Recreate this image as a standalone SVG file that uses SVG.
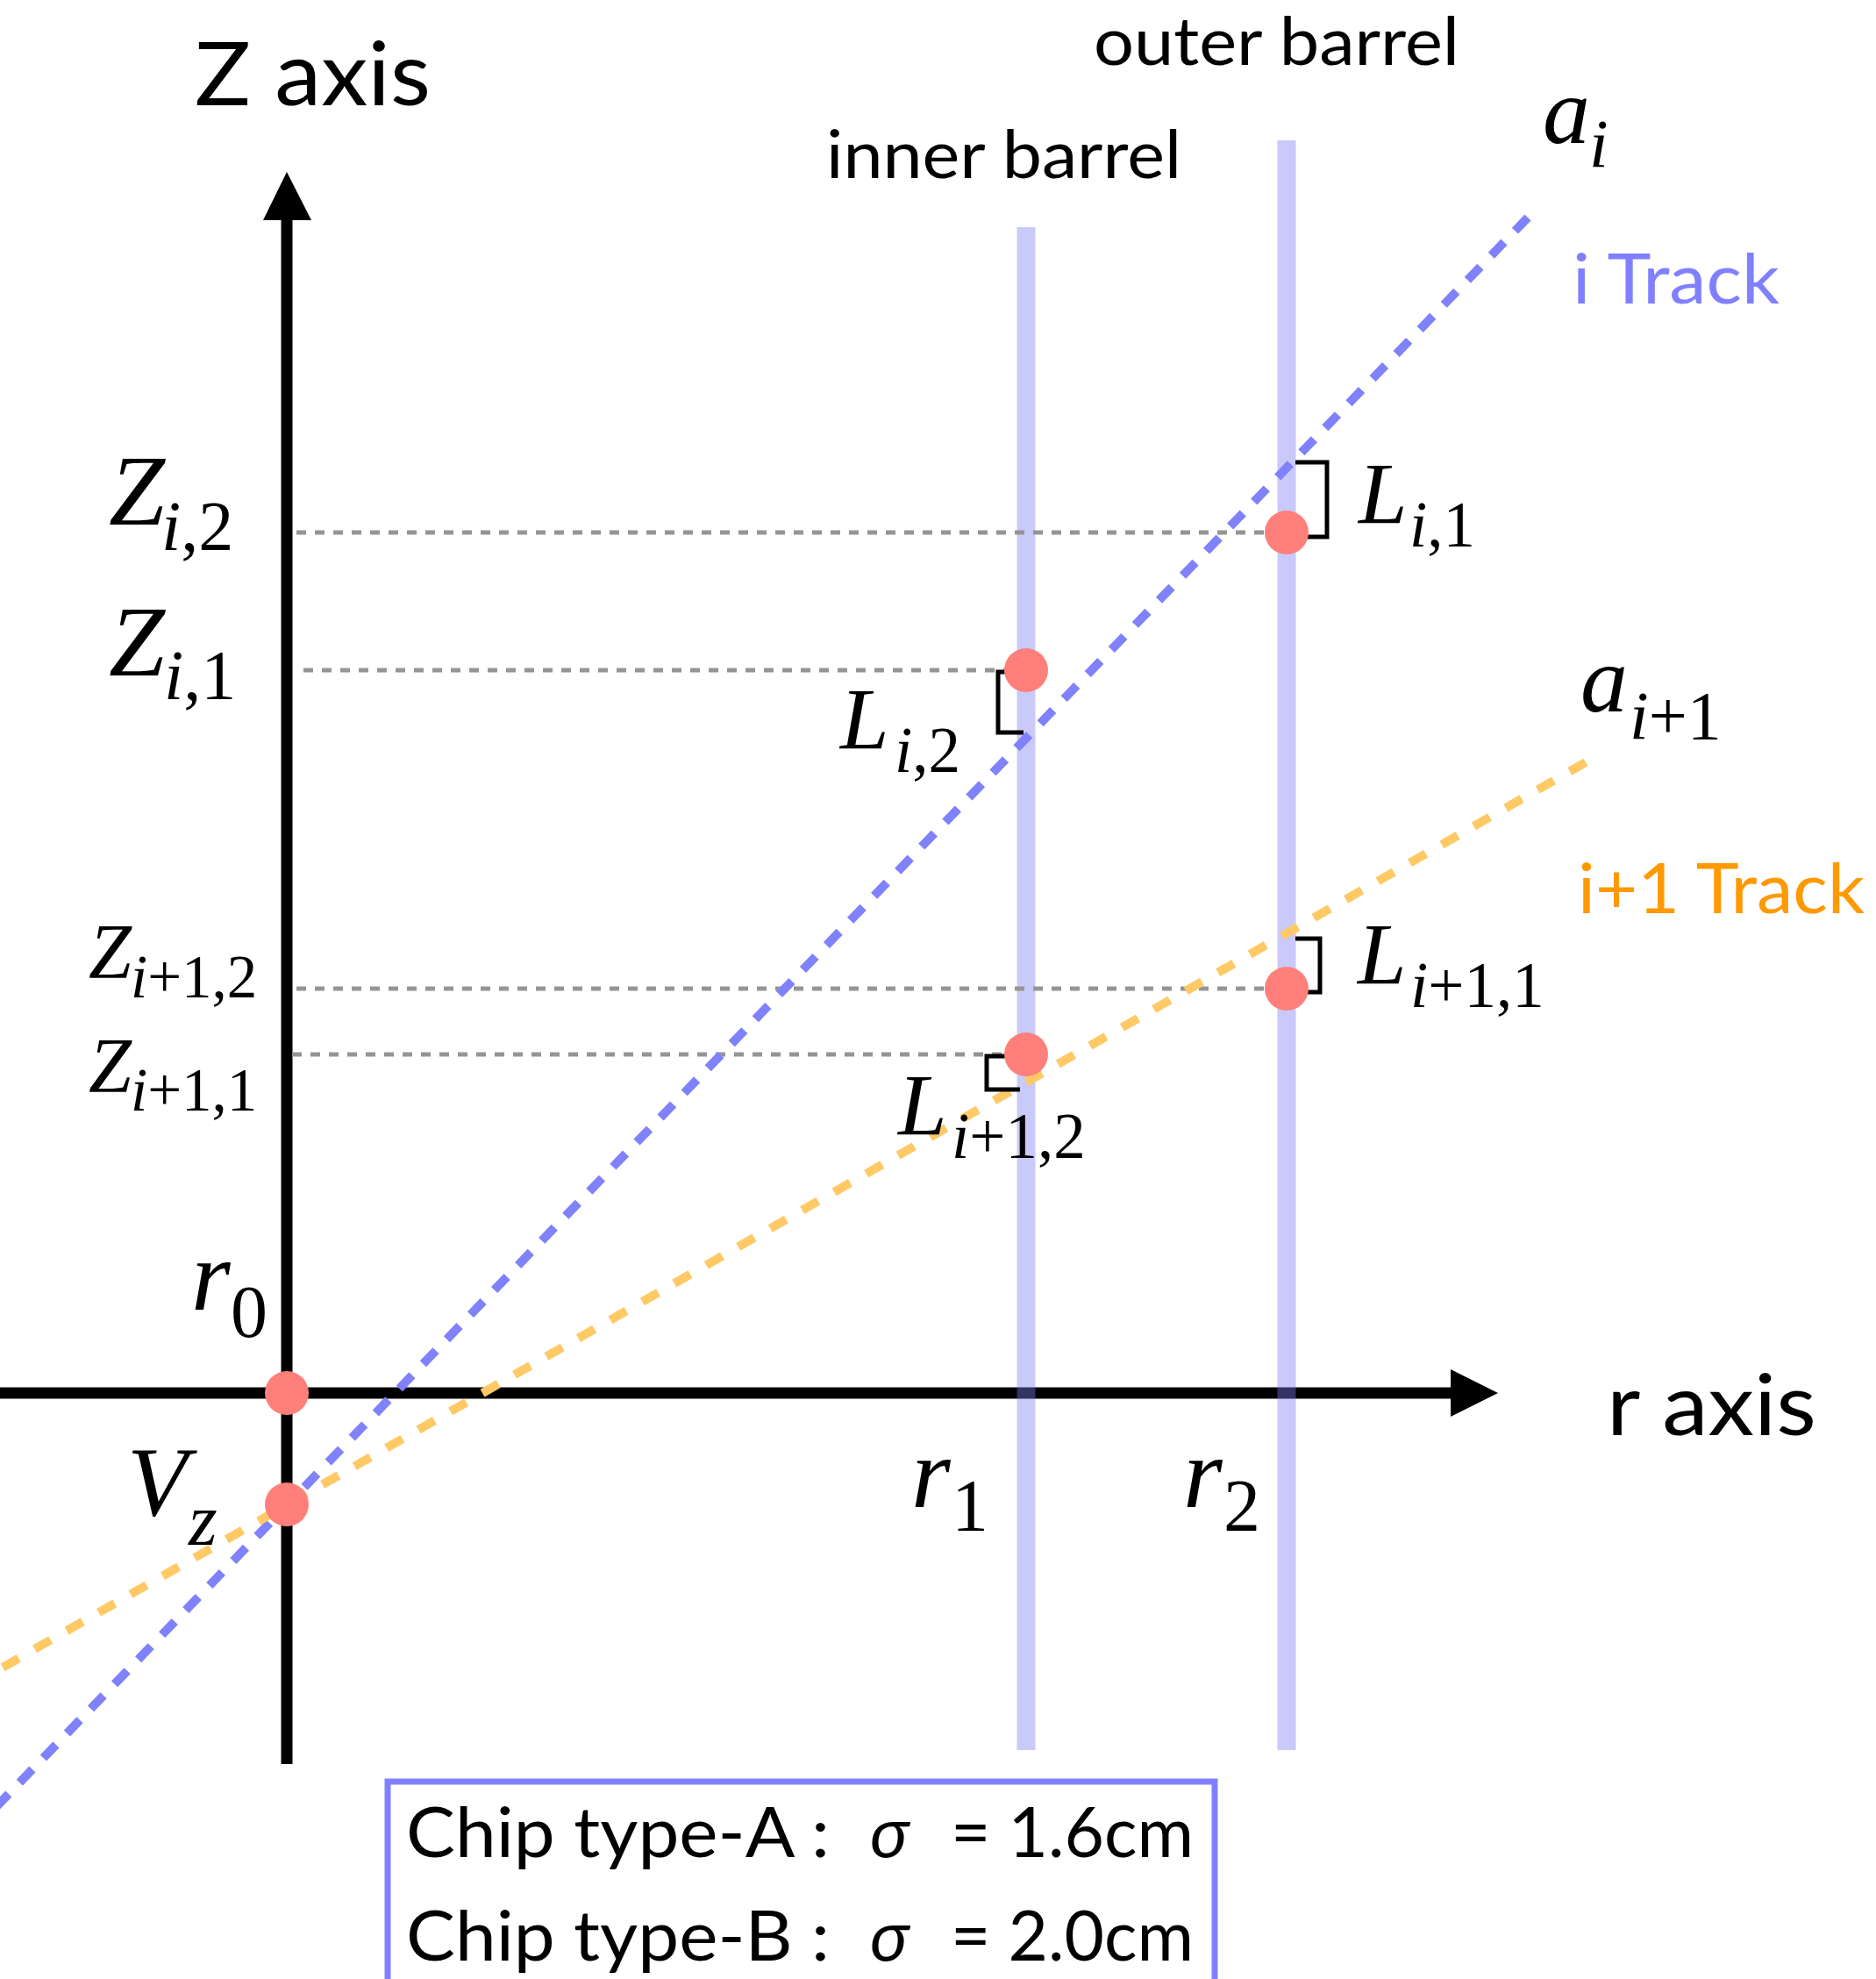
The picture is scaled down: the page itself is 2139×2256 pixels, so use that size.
<svg xmlns="http://www.w3.org/2000/svg" width="2139" height="2256" viewBox="0 0 2139 2256">
<style>
.s{font-family:Lato,"Noto Sans","Liberation Sans",sans-serif;fill:#000}
.m{font-family:"Liberation Serif","Times New Roman",serif;font-style:italic;fill:#000}
.u{font-style:normal}
.ax{stroke:#000;stroke-width:13;fill:none}
.bar{stroke:#7C7CF2;stroke-opacity:0.41;stroke-width:21;fill:none}
.dot{stroke:#959595;stroke-width:5;stroke-dasharray:11 10;fill:none}
.br{stroke:#000;stroke-width:5;fill:none}
.pt{fill:#FF7F7B}
</style>
<rect width="2139" height="2256" fill="#fff"/>
<g id="axes">
<line class="ax" x1="327" y1="2011" x2="327" y2="248"/>
<polygon points="300,251 327,196 355,251" fill="#000"/>
<line class="ax" x1="0" y1="1588" x2="1657" y2="1588"/>
<polygon points="1654,1561 1708,1588 1654,1615" fill="#000"/>
</g>
<g id="barrels">
<line class="bar" x1="1170" y1="259" x2="1170" y2="1995"/>
<line class="bar" x1="1467" y1="160" x2="1467" y2="1995"/>
</g>
<g id="connectors">
<line class="dot" x1="338" y1="607" x2="1450" y2="607"/>
<line class="dot" x1="346" y1="764" x2="1150" y2="764"/>
<line class="dot" x1="338" y1="1127" x2="1450" y2="1127"/>
<line class="dot" x1="333" y1="1202" x2="1150" y2="1202"/>
<line id="track-i" x1="1742" y1="248" x2="-20" y2="2076" stroke="#7F82FA" stroke-width="10" stroke-dasharray="21 18"/>
<line id="track-i1" x1="1808" y1="869" x2="-20" y2="1914" stroke="#FFC966" stroke-width="10" stroke-dasharray="21 21"/>
<polyline class="br" points="1477,527 1513,527 1513,612 1477,612"/>
<polyline class="br" points="1163,766 1138,766 1138,835 1167,835"/>
<polyline class="br" points="1477,1070 1505,1070 1505,1131 1477,1131"/>
<polyline class="br" points="1160,1204 1125,1204 1125,1242 1163,1242"/>
</g>
<g id="points">
<circle class="pt" cx="1467" cy="607" r="25"/>
<circle class="pt" cx="1170" cy="764" r="25"/>
<circle class="pt" cx="1467" cy="1127" r="25"/>
<circle class="pt" cx="1170" cy="1202" r="25"/>
<circle class="pt" cx="327" cy="1588" r="25"/>
<circle class="pt" cx="327" cy="1715" r="25"/>
</g>
<g id="labels">
<text class="s" x="222" y="120" font-size="100" textLength="269" lengthAdjust="spacingAndGlyphs">Z axis</text>
<text class="s" x="1247" y="74" font-size="76" textLength="417" lengthAdjust="spacingAndGlyphs">outer barrel</text>
<text class="s" x="942" y="203" font-size="76" textLength="405" lengthAdjust="spacingAndGlyphs">inner barrel</text>
<text class="s" x="1793" y="346" font-size="80" style="fill:#8080FF" textLength="236" lengthAdjust="spacingAndGlyphs">i Track</text>
<text class="s" x="1799" y="1041" font-size="80" style="fill:#FF9900" textLength="327" lengthAdjust="spacingAndGlyphs">i+1 Track</text>
<text class="s" x="1832" y="1636" font-size="96" textLength="239" lengthAdjust="spacingAndGlyphs">r axis</text>
</g>
<g id="Z_i2"><text class="m" x="124" y="598" font-size="115">Z<tspan x="184" y="627" font-size="80">i</tspan><tspan class="u" font-size="80">,2</tspan></text></g>
<g id="Z_i1"><text class="m" x="124" y="770" font-size="115">Z<tspan x="187" y="797" font-size="80">i</tspan><tspan class="u" font-size="80">,1</tspan></text></g>
<g id="Z_i12"><text class="m" x="101" y="1114" font-size="88">Z<tspan x="149" y="1137" font-size="69">i</tspan><tspan class="u" font-size="69">+1,2</tspan></text></g>
<g id="Z_i11"><text class="m" x="101" y="1244" font-size="88">Z<tspan x="149" y="1266" font-size="69">i</tspan><tspan class="u" font-size="69">+1,1</tspan></text></g>
<g id="L_i1"><text class="m" x="1549" y="596" font-size="100">L<tspan x="1607" y="623" font-size="73">i</tspan><tspan class="u" font-size="73">,1</tspan></text></g>
<g id="L_i2"><text class="m" x="958" y="853" font-size="100">L<tspan x="1020" y="880" font-size="73">i</tspan><tspan class="u" font-size="73">,2</tspan></text></g>
<g id="L_i11"><text class="m" x="1548" y="1121" font-size="100">L<tspan x="1608" y="1148" font-size="73">i</tspan><tspan class="u" font-size="73">+1,1</tspan></text></g>
<g id="L_i12"><text class="m" x="1024" y="1293" font-size="100">L<tspan x="1085" y="1320" font-size="73">i</tspan><tspan class="u" font-size="73">+1,2</tspan></text></g>
<g id="a_i"><text class="m" x="1759" y="163" font-size="108">a<tspan x="1812" y="190" font-size="78">i</tspan></text></g>
<g id="a_i1"><text class="m" x="1802" y="811" font-size="108">a<tspan x="1858" y="842" font-size="78">i</tspan><tspan class="u" font-size="78">+1</tspan></text></g>
<g id="r_0"><text class="m" x="218" y="1493" font-size="115">r<tspan class="u" x="263" y="1524" font-size="84">0</tspan></text></g>
<g id="r_1"><text class="m" x="1039" y="1718" font-size="115">r<tspan class="u" x="1085" y="1745" font-size="84">1</tspan></text></g>
<g id="r_2"><text class="m" x="1349" y="1718" font-size="115">r<tspan class="u" x="1395" y="1745" font-size="84">2</tspan></text></g>
<g id="V_z"><text class="m" x="145" y="1727" font-size="113">V<tspan x="215" y="1761" font-size="84">z</tspan></text></g>
<g id="legend">
<rect x="442" y="2031" width="943" height="300" fill="none" stroke="#8080FF" stroke-width="7"/>
<text class="s" x="463" y="2117" font-size="80" textLength="483" lengthAdjust="spacingAndGlyphs">Chip type-A :</text>
<text class="s" x="992" y="2117" font-size="80" font-style="italic">σ</text>
<text class="s" x="1084" y="2117" font-size="80" textLength="277" lengthAdjust="spacingAndGlyphs">= 1.6cm</text>
<text class="s" x="463" y="2235" font-size="80" textLength="483" lengthAdjust="spacingAndGlyphs">Chip type-B :</text>
<text class="s" x="992" y="2235" font-size="80" font-style="italic">σ</text>
<text class="s" x="1084" y="2235" font-size="80" textLength="277" lengthAdjust="spacingAndGlyphs">= 2.0cm</text>
</g>
</svg>
